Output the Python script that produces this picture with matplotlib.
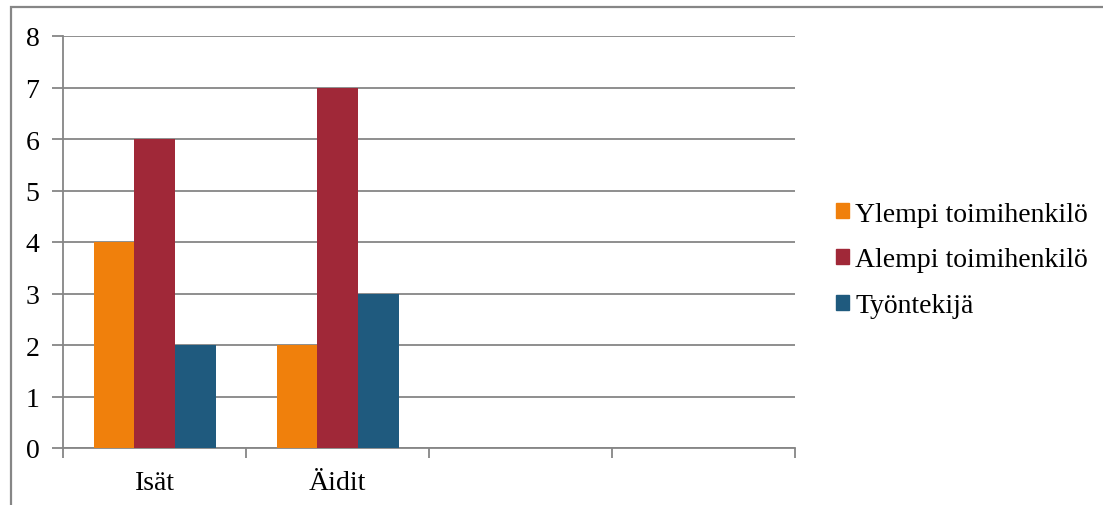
import numpy as np
import matplotlib
matplotlib.use("Agg")
import matplotlib.pyplot as plt
import matplotlib.patches as mpatches

plt.rcParams['font.family'] = ['Liberation Serif', 'DejaVu Serif']

# Data
categories = ['Isät', 'Äidit', '', '']
series_names = ['Ylempi toimihenkilö', 'Alempi toimihenkilö', 'Työntekijä']
ylempi = [4, 2, 0, 0]
alempi = [6, 7, 0, 0]
tyontekija = [2, 3, 0, 0]
series_values = [ylempi, alempi, tyontekija]
colors = ['#F0800C', '#A02838', '#1F5A7E']

W, H = 1103, 506
DPI = 100
GRID = '#868686'
FS = 20

fig = plt.figure(figsize=(W / DPI, H / DPI), dpi=DPI)
fig.patch.set_facecolor('white')

# outer chart frame (only top and left edges visible)
fig.add_artist(mpatches.Rectangle((10.5 / W, -0.1), 1.2, (H - 7.5) / H + 0.1,
                                  transform=fig.transFigure, fill=False,
                                  edgecolor=GRID, linewidth=1.6))

ax = fig.add_axes([63 / W, (H - 449) / H, (795 - 63) / W, (449 - 37) / H])

x = np.arange(len(categories))
bw = 1 / 4.5
for i, (vals, col, name) in enumerate(zip(series_values, colors, series_names)):
    ax.bar(x + (i - 1) * bw, vals, width=bw, color=col, label=name, zorder=3)

ax.set_xlim(-0.5, len(categories) - 0.5)
ax.set_ylim(0, 8)
ax.set_yticks(range(0, 9))
ax.yaxis.grid(True, color=GRID, linewidth=1.3, zorder=0)

# category ticks sit on group boundaries, labels in the middle
ax.set_xticks(np.arange(-0.5, len(categories), 1.0))
ax.set_xticklabels([])
ax.set_xticks(x, minor=True)
ax.set_xticklabels(categories, minor=True)
ax.tick_params(axis='x', which='major', direction='out', length=7, width=1.3, color=GRID)
ax.tick_params(axis='x', which='minor', length=0, pad=16, labelsize=FS)
ax.tick_params(axis='y', direction='out', length=8, width=1.3, color=GRID, pad=9, labelsize=FS)

for side in ['top', 'right']:
    ax.spines[side].set_visible(False)
for side in ['left', 'bottom']:
    ax.spines[side].set_color(GRID)
    ax.spines[side].set_linewidth(1.3)

handles = [mpatches.Patch(color=c, label=n) for c, n in zip(colors, series_names)]
fig.legend(handles=handles, loc='center left', bbox_to_anchor=(836 / W, (H - 261) / H),
           frameon=False, fontsize=FS, handlelength=0.45, handleheight=0.45,
           handletextpad=0.25, labelspacing=0.75, borderaxespad=0, borderpad=0)

fig.savefig('out.png', dpi=DPI, facecolor='white')
